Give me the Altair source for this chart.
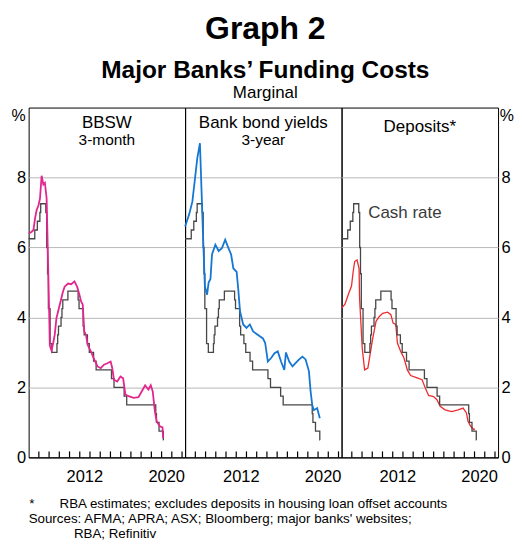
import altair as alt
import pandas as pd

FONT = "Liberation Sans"

# ---------------- text ----------------
title_main = "Graph 2"
title_sub = "Major Banks’ Funding Costs"
title_note = "Marginal"
panel_titles = ["BBSW", "Bank bond yields", "Deposits*"]
panel_subtitles = ["3-month", "3-year", ""]
cash_label = "Cash rate"
footnote_star = "*"
footnote_text = "RBA estimates; excludes deposits in housing loan offset accounts"
sources_1 = "Sources: AFMA; APRA; ASX; Bloomberg; major banks' websites;"
sources_2 = "RBA; Refinitiv"

# ---------------- axes ----------------
tick_years = list(range(2008, 2023))
label_years = [2012, 2020]
y_ticks = [0, 2, 4, 6, 8]
x_domain = [2007.0, 2022.3]
y_domain = [0, 10]

# ---------------- data ----------------
cash_years = [2007.0, 2007.6, 2007.85, 2008.1, 2008.18, 2008.68, 2008.77, 2008.85,
              2008.93, 2009.1, 2009.27, 2009.77, 2009.84, 2009.92, 2010.17, 2010.26,
              2010.34, 2010.84, 2011.84, 2011.93, 2012.33, 2012.43, 2012.75, 2012.93,
              2013.35, 2013.6, 2015.1, 2015.35, 2016.34, 2016.59, 2019.43, 2019.5,
              2019.75, 2020.17, 2020.2]
cash_rates = [6.25, 6.5, 6.75, 7.0, 7.25, 7.0, 6.0, 5.25,
              4.25, 3.25, 3.0, 3.25, 3.5, 3.75, 4.0, 4.25,
              4.5, 4.75, 4.5, 4.25, 3.75, 3.5, 3.25, 3.0,
              2.75, 2.5, 2.25, 2.0, 1.75, 1.5, 1.25, 1.0,
              0.75, 0.5, 0.5]

bbsw_years = [2007.0, 2007.15, 2007.3, 2007.47, 2007.63, 2007.79, 2007.96,
              2008.11, 2008.27, 2008.44, 2008.59, 2008.76, 2008.92,
              2009.02, 2009.07, 2009.24, 2009.40, 2009.55, 2009.72, 2009.88,
              2010.2, 2010.36, 2010.52, 2010.85,
              2011.16, 2011.48, 2011.74, 2011.96,
              2012.13, 2012.29, 2012.44, 2012.61, 2012.77, 2012.93,
              2013.16, 2013.41, 2013.74,
              2014.05, 2014.37, 2014.7,
              2015.02, 2015.18, 2015.34, 2015.66, 2015.98,
              2016.24, 2016.46, 2016.78,
              2017.26, 2017.74,
              2018.07, 2018.39, 2018.71, 2018.94,
              2019.13, 2019.35, 2019.52, 2019.83,
              2020.09, 2020.15]
bbsw_values = [6.4, 6.42, 6.45, 6.5, 6.84, 7.08, 7.2,
               7.4, 8.05, 7.8, 7.85, 7.4, 5.3,
               4.0, 3.2, 3.05, 3.27, 3.5, 3.98, 4.17,
               4.55, 4.74, 4.88, 4.97,
               4.95, 5.03, 4.88, 4.66,
               4.46, 4.37, 3.6, 3.5, 3.22, 3.12,
               2.98, 2.8, 2.6,
               2.55, 2.65, 2.69,
               2.74, 2.55, 2.22, 2.17, 2.31,
               2.26, 1.8, 1.75,
               1.7, 1.72,
               1.89, 2.06, 1.94, 2.06,
               1.89, 1.31, 1.03, 0.89,
               0.86, 0.55]

bond_years = [2007.0, 2007.39, 2007.71, 2007.97,
              2008.19, 2008.45, 2008.61, 2008.74, 2008.93,
              2009.15, 2009.3, 2009.48, 2009.63, 2009.96,
              2010.28, 2010.6, 2010.92,
              2011.24, 2011.5, 2011.72,
              2012.04, 2012.2, 2012.37, 2012.68,
              2013.0, 2013.33, 2013.65,
              2014.13, 2014.61, 2014.83,
              2015.09, 2015.41, 2015.74,
              2016.06, 2016.38, 2016.7, 2016.86,
              2017.18, 2017.5, 2017.82,
              2018.15, 2018.47, 2018.78,
              2019.11, 2019.27, 2019.43, 2019.59, 2019.91,
              2020.17]
bond_values = [6.6, 6.94, 7.31, 7.98,
               8.55, 8.98, 7.6, 6.46, 4.9,
               4.65, 5.0, 5.1, 5.8, 6.08,
               5.9, 5.98, 6.22,
               5.98, 5.8, 5.4,
               5.3, 4.8, 4.17, 3.8,
               3.7, 3.8, 3.6,
               3.5, 3.4, 3.27,
               2.74, 2.84, 2.98,
               3.03, 2.74, 2.5, 3.0,
               2.74, 2.6, 2.7,
               2.8, 2.88, 2.8,
               2.46, 1.89, 1.5, 1.35, 1.41,
               1.12]

dep_years = [2007.0, 2007.32, 2007.65, 2007.97,
             2008.13, 2008.28, 2008.51, 2008.71, 2008.76,
             2009.02, 2009.25, 2009.57, 2009.73,
             2010.05, 2010.37, 2010.69,
             2011.02, 2011.5, 2011.82,
             2012.04, 2012.3, 2012.46, 2012.78,
             2013.1, 2013.43, 2013.75,
             2014.39, 2014.87,
             2015.19, 2015.51, 2015.99,
             2016.32, 2016.64,
             2017.12, 2017.76,
             2018.4, 2018.88,
             2019.21, 2019.36, 2019.62, 2019.94, 2020.01]
dep_values = [4.27, 4.37, 4.65, 4.9,
              5.3, 5.6, 5.65, 5.4, 4.55,
              3.12, 2.5, 2.55, 2.84,
              3.41, 3.89, 4.03,
              4.12, 4.15, 4.08,
              3.84, 3.8, 3.27, 3.03,
              2.84, 2.5, 2.34,
              2.27, 2.22,
              1.98, 1.77, 1.74,
              1.65, 1.46,
              1.36, 1.31,
              1.36, 1.41,
              1.27, 1.03, 0.89, 0.79, 0.82]

cash_label_pos = (2009.6, 6.84)

# ---------------- styles / layout ----------------
W, H = 157, 351
CASH_COL = "#474747"
GRID_COL = "#b8b8b8"
series_colors = ["#e2268d", "#1577d4", "#ef2b2d"]
series_widths = [1.8, 1.8, 1.3]
TICK_FS = 16.5
TICK_LEN_PX = 6
TICK_LEN = TICK_LEN_PX * (y_domain[1] - y_domain[0]) / H   # in data units
TOP_ANCHOR = -4.5
BOTTOM_ANCHOR = H + 29.5

label_test = " || ".join(f"datum.value == {y}" for y in label_years)


def x_enc(field="year"):
    return alt.X(
        f"{field}:Q",
        scale=alt.Scale(domain=x_domain, nice=False, zero=False),
        axis=alt.Axis(
            values=tick_years, format="d", title=None, grid=False, domain=False,
            ticks=False,
            labelExpr=f"({label_test}) ? datum.label : ''",
            labelOffset=4.6, labelPadding=24, labelBaseline="alphabetic",
            labelFontSize=TICK_FS, labelColor="black", labelFont=FONT,
            labelOverlap=False, labelFlush=False,
        ),
    )


def y_axis(side):
    grid_color = {"condition": {"test": "datum.value === 0", "value": "black"},
                  "value": GRID_COL}
    common = dict(values=y_ticks, grid=True, gridColor=grid_color, gridWidth=1,
                  domain=False, ticks=False)
    if side in ("left", "right"):
        return alt.Axis(orient=side, labelPadding=3, labelFontSize=TICK_FS,
                        labelColor="black", labelFont=FONT,
                        title="%", titleAngle=0,
                        titleX=-10.5 if side == "left" else 8.3, titleY=8,
                        titleAlign="center", titleBaseline="middle",
                        titleFontSize=16, titleFontWeight="normal", titleFont=FONT,
                        titleColor="black", **common)
    return alt.Axis(labels=False, title=None, **common)


def y_enc(side, field="value"):
    return alt.Y(f"{field}:Q", scale=alt.Scale(domain=y_domain, nice=False, zero=True),
                 axis=y_axis(side))


def text_chart(txt, x, y, size, weight="normal", align="center", color="black"):
    return alt.Chart(pd.DataFrame({"t": [txt]})).mark_text(
        font=FONT, fontSize=size, fontWeight=weight, align=align,
        baseline="alphabetic", color=color, clip=True
    ).encode(text="t:N", x=alt.value(x), y=alt.value(y))


def anchor(y):
    return alt.Chart(pd.DataFrame({"a": [0]})).mark_rule(
        strokeWidth=0, strokeOpacity=0, color="white"
    ).encode(x=alt.value(W / 2), x2=alt.value(W / 2), y=alt.value(y), y2=alt.value(y))


def tick_layer(side):
    df = pd.DataFrame({"year": tick_years})
    return alt.Chart(df).transform_calculate(
        value="0", top=f"{TICK_LEN}"
    ).mark_rule(color="black", strokeWidth=1.2).encode(
        x=x_enc(), y=y_enc(side), y2=alt.Y2("top:Q")
    )


def panel(i, years, values, side):
    cash_df = pd.DataFrame({"year": cash_years, "value": cash_rates})
    ser_df = pd.DataFrame({"year": years, "value": values})
    cash = alt.Chart(cash_df).mark_line(
        interpolate="step-after", color=CASH_COL, strokeWidth=1.3
    ).encode(x=x_enc(), y=y_enc(side))
    ser = alt.Chart(ser_df).mark_line(
        color=series_colors[i], strokeWidth=series_widths[i]
    ).encode(x=x_enc(), y=y_enc(side))
    layers = [cash, ser] if i < 2 else [ser, cash]
    layers.append(tick_layer(side))
    if panel_subtitles[i]:
        layers.append(text_chart(panel_titles[i], W / 2, 20.5, 17))
        layers.append(text_chart(panel_subtitles[i], W / 2, 38, 15.5))
    else:
        layers.append(text_chart(panel_titles[i], W / 2, 24.5, 17))
    if i == 2:
        lab = alt.Chart(pd.DataFrame({"year": [cash_label_pos[0]],
                                      "value": [cash_label_pos[1]],
                                      "t": [cash_label]})).mark_text(
            font=FONT, fontSize=17, align="left", baseline="alphabetic",
            color="#3a3a3a", clip=True
        ).encode(x=x_enc(), y=y_enc(side), text="t:N")
        layers.append(lab)
    layers.append(anchor(TOP_ANCHOR))
    layers.append(anchor(BOTTOM_ANCHOR))
    return alt.layer(*layers).properties(width=W, height=H)


panels = alt.hconcat(
    panel(0, bbsw_years, bbsw_values, "left"),
    panel(1, bond_years, bond_values, "none"),
    panel(2, dep_years, dep_values, "right"),
    spacing=0, bounds="flush",
)

HW = 3 * W
CX = 237.5
header = alt.layer(
    text_chart(title_main, CX, 29, 32, "bold"),
    text_chart(title_sub, CX, 68, 24.5, "bold"),
    text_chart(title_note, CX, 88.8, 17),
).properties(width=HW, height=92.5, view={"stroke": "transparent"})

FS = 13.4
footer = alt.layer(
    text_chart(footnote_star, 0.7, 19.5, FS, align="left"),
    text_chart(footnote_text, 31, 19.5, FS, align="left"),
    text_chart(sources_1, 0, 34.5, FS, align="left"),
    text_chart(sources_2, 45.4, 49.5, FS, align="left"),
).properties(width=HW, height=52, view={"stroke": "transparent"})

chart = alt.vconcat(header, panels, footer, spacing=0).properties(
    padding={"left": 1.7, "top": 0, "right": 0, "bottom": 0}
).configure(font=FONT).configure_view(stroke="black", strokeWidth=1)

chart.save("out.html", embed_options={"renderer": "svg", "actions": False})
